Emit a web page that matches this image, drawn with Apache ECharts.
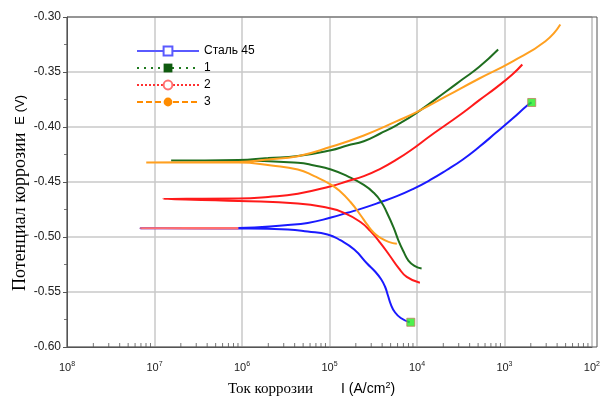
<!DOCTYPE html>
<html><head><meta charset="utf-8">
<script src="https://cdn.jsdelivr.net/npm/echarts@6/dist/echarts.min.js"></script>
<style>html,body{margin:0;padding:0;background:#fff}#c{width:603px;height:403px}</style>
</head><body><div id="c"></div>
<script>
// Current density (A/cm2) and potential (V); each curve: cathodic end -> Ecorr -> anodic end
const steelI = [8.26e-5,6.53e-5,5.58e-5,5.04e-5,4.66e-5,4.31e-5,3.88e-5,3.32e-5,2.69e-5,1.92e-5,1.33e-5,9.5e-6,5.64e-6,3.35e-6,9.1e-7,6.9e-8,
                9.1e-7,3.35e-6,5.64e-6,1.04e-5,1.60e-5,2.47e-5,3.81e-5,5.89e-5,9.1e-5,1.40e-4,2.17e-4,3.35e-4,5.16e-4,7.98e-4,1.23e-3,1.82e-3,2.04e-3];
const steelE = [-0.5775,-0.5736,-0.5682,-0.5614,-0.5532,-0.5450,-0.5382,-0.5314,-0.5241,-0.5114,-0.5029,-0.4977,-0.4950,-0.4932,-0.4923,-0.4920,
                -0.4918,-0.4891,-0.4873,-0.4823,-0.4780,-0.4735,-0.4684,-0.4629,-0.4562,-0.4484,-0.4393,-0.4295,-0.4180,-0.4053,-0.3925,-0.3805,-0.3777];
const s1I = [1.13e-4,9.48e-5,7.98e-5,7.02e-5,6.15e-5,5.41e-5,4.54e-5,3.88e-5,3.21e-5,2.47e-5,1.60e-5,1.04e-5,6.71e-6,4.35e-6,9.1e-7,1.55e-7,
             9.1e-7,1.99e-6,4.35e-6,1.04e-5,1.60e-5,2.47e-5,3.81e-5,5.89e-5,9.9e-5,2.17e-4,3.35e-4,5.16e-4,8.47e-4];
const s1E = [-0.5286,-0.5264,-0.5214,-0.5132,-0.5032,-0.4914,-0.4780,-0.4677,-0.4598,-0.4527,-0.4447,-0.4386,-0.4350,-0.4325,-0.4305,-0.4305,
             -0.4300,-0.4282,-0.4264,-0.4211,-0.4168,-0.4129,-0.4059,-0.3982,-0.3871,-0.3675,-0.3564,-0.3453,-0.3295];
const s2I = [1.08e-4,7.64e-5,6.15e-5,4.94e-5,3.81e-5,2.94e-5,2.26e-5,1.47e-5,9.5e-6,4.35e-6,9.1e-7,1.25e-7,
             9.1e-7,1.99e-6,4.35e-6,1.04e-5,1.60e-5,2.47e-5,3.81e-5,5.89e-5,9.1e-5,1.40e-4,2.17e-4,3.35e-4,5.16e-4,7.98e-4,1.23e-3,1.60e-3];
const s2E = [-0.5416,-0.5362,-0.5280,-0.5175,-0.5053,-0.4947,-0.4864,-0.4780,-0.4735,-0.4695,-0.4673,-0.4653,
             -0.4650,-0.4636,-0.4607,-0.4538,-0.4493,-0.4447,-0.4380,-0.4295,-0.4195,-0.4084,-0.3977,-0.3871,-0.3756,-0.3644,-0.3523,-0.3432];
const s3I = [5.89e-5,4.74e-5,3.81e-5,3.21e-5,2.69e-5,2.26e-5,1.74e-5,1.33e-5,1.04e-5,6.71e-6,4.35e-6,2.17e-6,9.1e-7,8.05e-8,
             9.1e-7,1.99e-6,4.35e-6,1.04e-5,2.47e-5,5.89e-5,9.9e-5,2.17e-4,5.16e-4,1.23e-3,2.94e-3,4.35e-3];
const s3E = [-0.5062,-0.5044,-0.5007,-0.4962,-0.4886,-0.4800,-0.4682,-0.4586,-0.4523,-0.4447,-0.4386,-0.4350,-0.4323,-0.4323,
             -0.4318,-0.4295,-0.4265,-0.4180,-0.4077,-0.3947,-0.3865,-0.3720,-0.3559,-0.3405,-0.3220,-0.3068];
// end markers on steel curve
const markI = [8.5e-5, 2.05e-3];
const markE = [-0.5775, -0.3777];
const seriesNames = ['Сталь 45', '1', '2', '3'];
const xTickExp = {'-8':'8','-7':'7','-6':'6','-5':'5','-4':'4','-3':'3','-2':'2'};
// minor tick positions of the log axis
const tickDecades = [1e-8, 1e-7, 1e-6, 1e-5, 1e-4, 1e-3];
const tickMultipliers = [2, 3, 4, 5, 6, 7, 8, 9];

const zip = (a, b) => a.map((v, i) => [v, b[i]]);
const flatSteel = zip(steelI, steelE).filter(p => p[0] <= 1e-6);
const minorTicks = [];
tickDecades.forEach(d => tickMultipliers.forEach(m => minorTicks.push([d * m, -0.60])));

const curveStyle = (color) => ({type:'line', smooth:0.5, showSymbol:false, symbol:'none', silent:true,
  lineStyle:{color:color, width:2}, itemStyle:{color:color}, z:3});

const option = {
  animation:false,
  backgroundColor:'#fff',
  grid:{left:67, right:6, top:17, bottom:56, containLabel:false},
  legend:{orient:'vertical', left:131, top:40, itemWidth:62, itemHeight:11, itemGap:5,
    textStyle:{fontFamily:'Arial, Liberation Sans', fontSize:12, color:'#000'},
    data:seriesNames},
  xAxis:{type:'log', logBase:10, min:1e-8, max:1e-2,
    axisLine:{show:true, lineStyle:{color:'#555', width:1}},
    axisTick:{show:false},
    splitLine:{show:true, lineStyle:{color:'#c8c8c8', width:1.5}},
    axisLabel:{margin:14, color:'#222', fontFamily:'Arial, Liberation Sans',
      formatter:(v)=>{const e=String(Math.round(Math.log10(v))); return '{b|10}{s|'+(xTickExp[e]||e)+'}';},
      rich:{b:{fontSize:11, color:'#222'}, s:{fontSize:7, color:'#222', verticalAlign:'top', padding:[0,0,6,0]}}}
  },
  yAxis:{type:'value', min:-0.60, max:-0.30, interval:0.05,
    axisLine:{show:true, lineStyle:{color:'#555', width:1}},
    axisTick:{show:true, length:4, lineStyle:{color:'#555'}},
    minorTick:{show:true, splitNumber:2, length:3, lineStyle:{color:'#777'}},
    splitLine:{show:true, lineStyle:{color:'#c8c8c8', width:1.5}},
    axisLabel:{margin:6, color:'#222', fontSize:12, fontFamily:'Arial, Liberation Sans', formatter:(v)=>v.toFixed(2)}
  },
  graphic:[
    {type:'rect', shape:{x:67, y:17, width:530, height:330}, style:{fill:'none', stroke:'#555', lineWidth:1}, silent:true, z:10},
    {type:'text', left:228, top:381, style:{text:'{a|Ток коррозии}{g|}{b|I (A/cm}{s|2}{b|)}',
      rich:{a:{fontFamily:'Liberation Serif, Times New Roman', fontSize:15, color:'#111'},
            g:{width:28},
            b:{fontFamily:'Arial, Liberation Sans', fontSize:14, color:'#222'},
            s:{fontFamily:'Arial, Liberation Sans', fontSize:9, color:'#222', verticalAlign:'top', padding:[0,0,7,0]}}}},
    {type:'text', x:11, y:291, rotation:Math.PI/2, style:{text:'{a|Потенциал коррозии}{g|}{b|E (V)}',
      rich:{a:{fontFamily:'Liberation Serif, Times New Roman', fontSize:18, color:'#111'},
            g:{width:8},
            b:{fontFamily:'Arial, Liberation Sans', fontSize:13, color:'#222'}}}}
  ],
  series:[
    Object.assign(curveStyle('#1a1aff'), {data:zip(steelI, steelE)}),
    Object.assign(curveStyle('#f77'), {data:flatSteel, lineStyle:{color:'#ff7070', width:2}, z:4}),
    Object.assign(curveStyle('#1f6e1f'), {data:zip(s1I, s1E)}),
    Object.assign(curveStyle('#ff1a1a'), {data:zip(s2I, s2E)}),
    Object.assign(curveStyle('#ffa020'), {data:zip(s3I, s3E)}),
    {type:'scatter', data:zip(markI, markE), symbol:'rect', symbolSize:8, silent:true, z:6,
      itemStyle:{color:'#22ee22', borderColor:'#c08060', borderWidth:1}},
    {type:'scatter', data:minorTicks, symbol:'rect', symbolSize:[1, 4], symbolOffset:[0, -2], silent:true, z:11,
      itemStyle:{color:'#555'}},
    // legend entries
    {name:seriesNames[0], type:'line', data:[], symbol:'emptyRect', symbolSize:10,
      lineStyle:{color:'#5a5aff', width:1, type:'solid'}, itemStyle:{color:'#5a5aff', borderColor:'#5a5aff'}},
    {name:seriesNames[1], type:'line', data:[], symbol:'rect', symbolSize:10,
      lineStyle:{color:'#1f7a1f', width:1.5, type:[2,5]}, itemStyle:{color:'#0f5a0f'}},
    {name:seriesNames[2], type:'line', data:[], symbol:'emptyCircle', symbolSize:11,
      lineStyle:{color:'#ff3030', width:1.5, type:[2,2]}, itemStyle:{color:'#ff7070', borderColor:'#ff7070'}},
    {name:seriesNames[3], type:'line', data:[], symbol:'circle', symbolSize:9,
      lineStyle:{color:'#ff8c00', width:1.5, type:[6,3]}, itemStyle:{color:'#ff8c00'}}
  ]
};
const chart = echarts.init(document.getElementById('c'), null, {renderer:'canvas'});
chart.setOption(option);
</script></body></html>
